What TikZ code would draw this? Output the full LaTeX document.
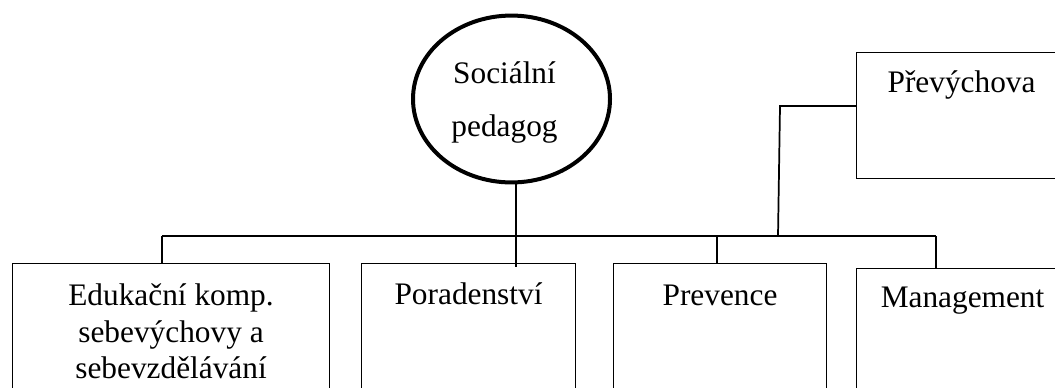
\documentclass[tikz,border=0pt]{standalone}
\usepackage{fontspec}
\setmainfont{Liberation Serif}
\usetikzlibrary{shapes.geometric}
\begin{document}
\begin{tikzpicture}[x=0.75pt,y=-0.75pt,
  box/.style={draw, line width=0.8pt, inner sep=0pt, anchor=north west, align=center,
    font=\fontsize{23.5}{27.4}\selectfont},
  conn/.style={line width=1.3pt},
  hub/.style={ellipse, draw, line width=3pt, inner sep=0pt, align=center,
    font=\fontsize{23.5}{39.75}\selectfont}]
\useasboundingbox (0,0) rectangle (1055,387);
\clip (0,0) rectangle (1055,387);

\node[hub, minimum width=147.75pt, minimum height=123pt, text height=72pt, text depth=16.5pt]
  (hub) at (511.5,99) {Sociální\hspace*{10.5pt}\\pedagog\hspace*{10.5pt}};

\node[box, minimum width=157.5pt, text height=30pt, text depth=64.5pt] (pre) at (856,52) {Převýchova};

\node[box, minimum width=237.75pt, text height=86.25pt, text depth=16.5pt] (edu) at (12,263)
  {Edukační komp.\\sebevýchovy a\\sebevzdělávání};
\node[box, minimum width=160.5pt, text height=30.75pt, text depth=72pt] (por) at (361,263) {Poradenství};
\node[box, minimum width=159.75pt, text height=31.5pt, text depth=71.25pt] (prv) at (613,263) {Prevence};
\node[box, minimum width=159pt, text height=29.25pt, text depth=69.75pt] (man) at (856,268) {Management};

\coordinate (busL) at (162,236);
\coordinate (busR) at (936,236);
\coordinate (s2) at (516,236);
\coordinate (s3) at (717,236);
\coordinate (s5) at (778,236);
\coordinate (k) at (780,106);

\draw[conn] (busL) -- (busR);
\draw[conn] (busL) -- (busL |- edu.north);
\draw[conn] (s2 |- hub.south) -- (s2 |- por.north) -- ++(0,4);
\draw[conn] (s3) -- (s3 |- prv.north);
\draw[conn] (busR) -- (busR |- man.north);
\draw[conn] (s5) -- (k) -- (k -| pre.west);
\end{tikzpicture}
\end{document}
